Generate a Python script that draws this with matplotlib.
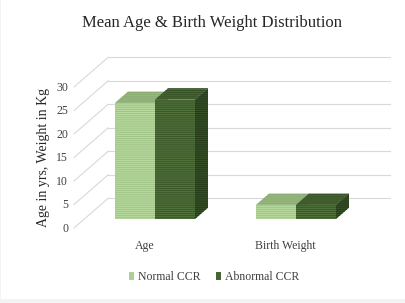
import matplotlib.pyplot as plt
from matplotlib.patches import Polygon, Patch, Rectangle

# Data
categories = ['Age', 'Birth Weight']
normal_ccr = [24.7, 3.0]
abnormal_ccr = [25.4, 3.0]
yticks = [0, 5, 10, 15, 20, 25, 30]

plt.rcParams['font.family'] = ['Liberation Serif', 'DejaVu Serif']
plt.rcParams['hatch.linewidth'] = 0.7

W, H = 405, 303
fig = plt.figure(figsize=(W / 100, H / 100), dpi=100)
fig.patch.set_facecolor('#f3f3f3')
fig.patches.append(Rectangle((1 / W, 4 / H), 1, 1, transform=fig.transFigure,
                             facecolor='white', edgecolor='none', zorder=-5))

# axes spans the whole figure: 1 x-unit = one category step, y = value
XPX, VPX = 141.0, 4.7      # pixels per x unit / per value unit
X0PX, Y0PX = 155.0, 219.0  # pixel of (0, 0)
ax = fig.add_axes([0, 0, 1, 1])
ax.set_xlim(-X0PX / XPX, (W - X0PX) / XPX)
ax.set_ylim(-(H - Y0PX) / VPX, Y0PX / VPX)
ax.axis('off')


def depth(t):
    # oblique depth offset of t pixels, in data units
    return t / XPX, t * 0.87 / VPX


# walls
wall_x = -0.501
fx, fy = depth(-10.3)
bx, by = depth(23.7)
right_x = (390 - X0PX) / XPX
for v in yticks:
    ax.plot([wall_x + fx, wall_x + bx], [v + fy, v + by], color='#d9d9d9', lw=0.8, zorder=1)
    ax.plot([wall_x + bx, right_x], [v + by, v + by], color='#d9d9d9', lw=0.8, zorder=1)
    ax.text(wall_x + fx - 6 / XPX, v + fy - 0.2, str(v), ha='right', va='center',
            fontsize=8.5, color='#404040')

# bars
bw = 40 / XPX
ddx, ddy = depth(13)
series = [
    (normal_ccr, -bw, ('#b8da9f', '#9fc486'), ('#9dbd84', '#84a66b'), ('#8aab72', '#7a9b63')),
    (abnormal_ccr, 0.0, ('#51723b', '#3a5729'), ('#4a6a36', '#344e24'), ('#354f27', '#263b1b')),
]
hatch = '-' * 8
for i in range(len(categories)):
    for vals, off, front, top, side in series:
        x0 = i + off
        x1 = x0 + bw
        v = vals[i]
        ax.bar(x0, v, bw, align='edge', color=front[0], edgecolor=front[1],
               linewidth=0, hatch=hatch, zorder=3)
        ax.add_patch(Polygon([(x0, v), (x1, v), (x1 + ddx, v + ddy), (x0 + ddx, v + ddy)],
                             closed=True, facecolor=top[0], edgecolor=top[1],
                             linewidth=0, hatch=hatch, zorder=3))
        ax.add_patch(Polygon([(x1, 0), (x1 + ddx, ddy), (x1 + ddx, v + ddy), (x1, v)],
                             closed=True, facecolor=side[0], edgecolor=side[1],
                             linewidth=0, hatch=hatch, zorder=3))

# category labels
for i, c in enumerate(categories):
    ax.text(i - 0.075, -5.74, c, ha='center', va='center', fontsize=8.5, color='#404040')

fig.text(212 / W, 1 - 23 / H, 'Mean Age & Birth Weight Distribution', ha='center', va='center',
         fontsize=12, color='#262626')
fig.text(44 / W, 1 - 157 / H, 'Age in yrs, Weight in Kg', ha='center', va='center',
         rotation=90, fontsize=10, color='#262626')

handles = [Patch(facecolor='#b8da9f', edgecolor='#9fc486', hatch=hatch, linewidth=0),
           Patch(facecolor='#51723b', edgecolor='#3a5729', hatch=hatch, linewidth=0)]
fig.legend(handles, ['Normal CCR', 'Abnormal CCR'], loc='center', ncol=2,
           bbox_to_anchor=(214 / W, 1 - 277 / H), frameon=False, fontsize=8.5,
           handlelength=0.45, handleheight=0.6, handletextpad=0.3, columnspacing=1.3,
           labelcolor='#404040')

fig.savefig('out.png', dpi=100, facecolor=fig.get_facecolor())
